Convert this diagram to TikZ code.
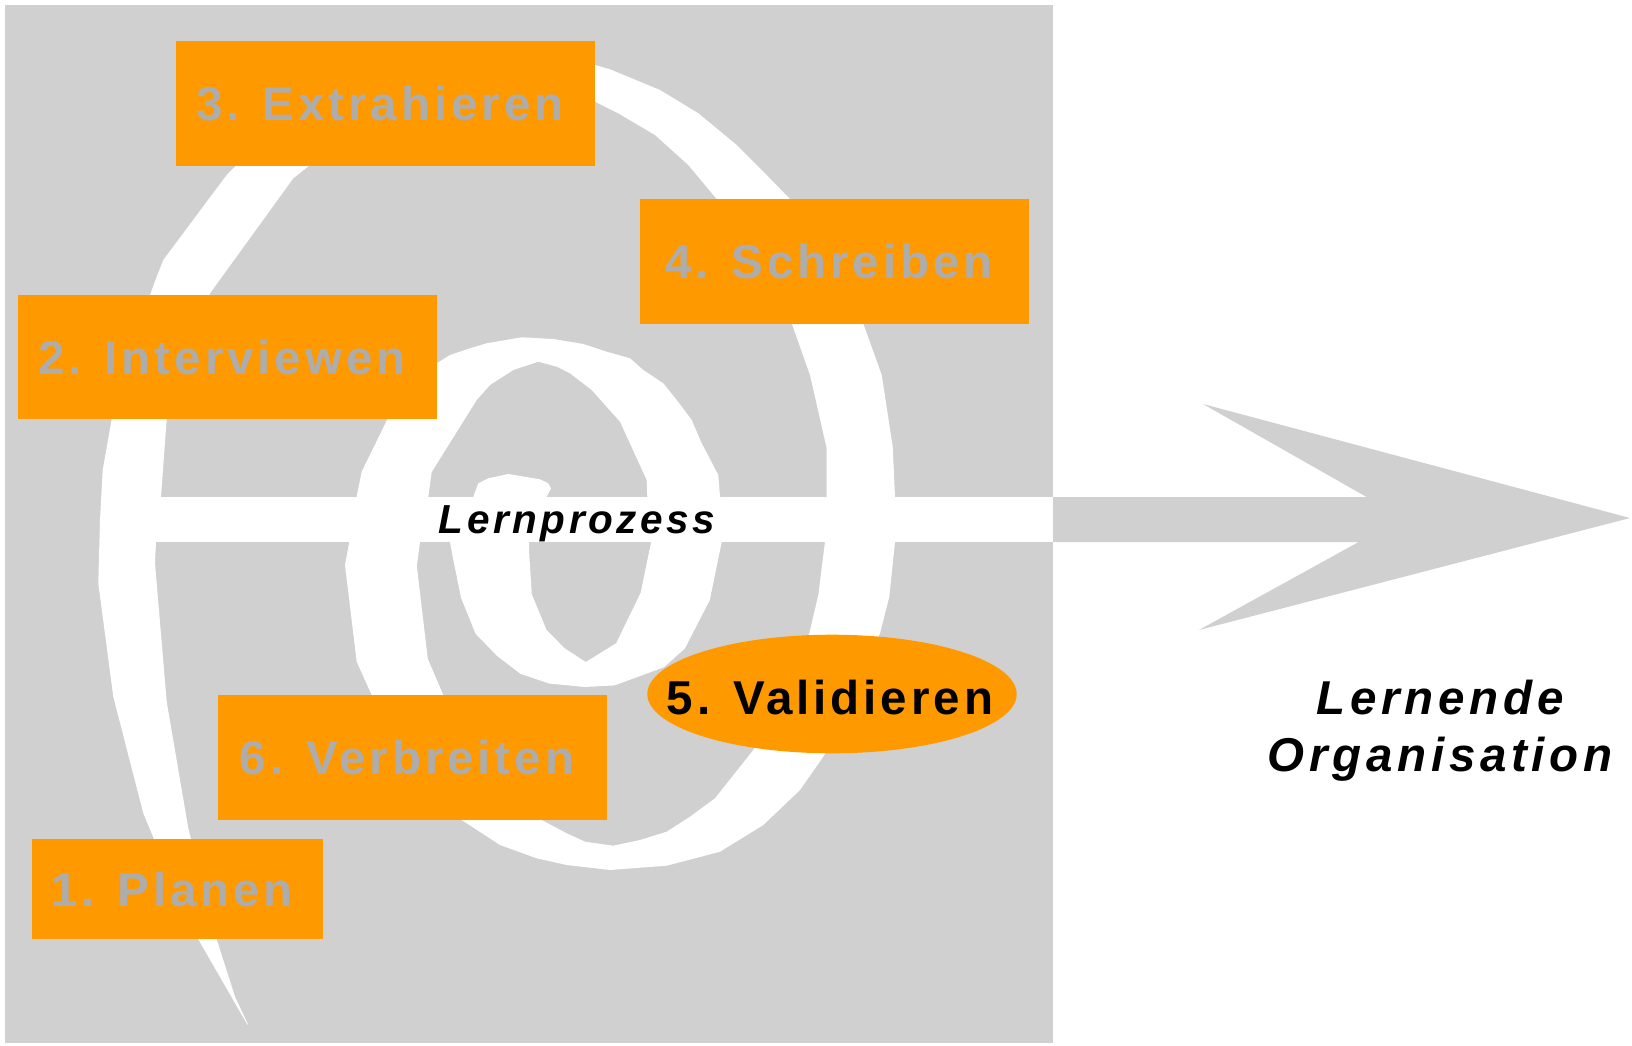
\documentclass[tikz,border=0pt]{standalone}
\usepackage{fontspec}
\usetikzlibrary{shapes.geometric}
\setmainfont{Liberation Sans}
\newfontfamily\lblfont[LetterSpace=8.3]{Liberation Sans}
\newfontfamily\orgfont[LetterSpace=10]{Liberation Sans}
\newfontfamily\procfont[LetterSpace=8.8]{Liberation Sans}
\definecolor{bggray}{RGB}{208,208,208}
\definecolor{orng}{RGB}{255,153,0}
\definecolor{txtgray}{RGB}{173,173,173}
\begin{document}
\begin{tikzpicture}[x=1pt,y=-1pt,
  stepbox/.style={fill=orng,draw=none,inner sep=0pt,text height=34pt,text depth=0pt,
    execute at end node={\hspace*{11pt}},
    font=\lblfont\bfseries\fontsize{47.5}{57}\selectfont,text=txtgray},
  steptext/.style={inner sep=0pt,anchor=base,
    font=\lblfont\bfseries\fontsize{47.5}{57}\selectfont,text=black},
  biglbl/.style={inner sep=0pt,anchor=base,font=\orgfont\bfseries\itshape\fontsize{47.5}{57}\selectfont},
  proclbl/.style={inner sep=0pt,anchor=base,font=\procfont\bfseries\itshape\fontsize{40.5}{48}\selectfont}]
\useasboundingbox (0,0) rectangle (1632,1046);
\fill[white] (0,0) rectangle (1632,1046);
% grey field
\fill[bggray] (5,5) rectangle (1053,1043);
% spiral
\fill[white] (247,1024) -- (198.3,939.3) -- (154,839) -- (143.3,813.3) -- (113.3,696.7) -- (98.3,583.3) -- (100,520) -- (102.7,470) -- (111.7,419.3) -- (150,295) -- (156.7,276.7) -- (163.3,260) -- (226.7,175) -- (236.7,165) -- (595,65) -- (610,69.3) -- (660,90) -- (698.3,113.3) -- (736.7,145) -- (760,168.3) -- (790,199) -- (863.3,323.7) -- (881.7,375) -- (892.7,446.7) -- (895,496.7) -- (895,541.7) -- (889.3,596.7) -- (880,633.3) -- (826.7,751.7) -- (800,790) -- (763.3,825) -- (720,851.7) -- (666.7,865.7) -- (610,870) -- (566.7,865) -- (536.7,858.3) -- (500,845) -- (461.7,820) -- (371.7,695) -- (356.7,661.7) -- (345,565) -- (349.3,541.7) -- (356.7,496.7) -- (361.7,471.7) -- (387,420) -- (436.7,363.3) -- (450,355) -- (470,348.3) -- (486.7,343.3) -- (521.7,337.3) -- (553.3,339) -- (583.3,344) -- (606.7,351.7) -- (630,358.3) -- (643.3,370) -- (663.3,383.3) -- (676.7,400) -- (691.7,420) -- (701.7,443.3) -- (718.3,475) -- (720,496.7) -- (721.7,542) -- (709.8,600) -- (684.9,648.4) -- (664,667.2) -- (614.5,685.4) -- (584.7,687) -- (549,683.5) -- (520.4,673.8) -- (496.9,655.7) -- (475.6,633.8) -- (461.1,598) -- (452.4,555.3) -- (450,542) -- (473.3,496.7) -- (478.3,483.3) -- (488.3,478.3) -- (508.3,474) -- (540,479.3) -- (548.3,483.3) -- (551,488.3) -- (546.7,496.7) -- (529,542) -- (529.2,553.4) -- (531.8,594.3) -- (546.4,629.7) -- (564.8,648.4) -- (585.8,662) -- (596,655.7) -- (616.2,643.2) -- (640.7,592.7) -- (651.1,542.2) -- (647.3,496.7) -- (646.7,480) -- (620,421.7) -- (591.7,390) -- (570,373.3) -- (556.7,366.7) -- (538.3,361.7) -- (513.3,370) -- (490,385) -- (476.7,400) -- (431.7,472) -- (428.3,496.7) -- (420,542) -- (416.8,566.2) -- (427.8,658.8) -- (443.4,695.3) -- (541.7,820) -- (566.7,833.3) -- (585,841.7) -- (613.3,845.7) -- (640,840) -- (666.7,831.7) -- (690,816.7) -- (715,798.3) -- (753.3,750) -- (809.3,633.3) -- (818.3,595) -- (825,541.7) -- (826.7,496.7) -- (826.7,448.3) -- (810,375) -- (791.7,323.3) -- (716.7,199) -- (688.3,165) -- (655,135) -- (618.3,113.3) -- (595,101.7) -- (310,165) -- (293.3,178.3) -- (210,293.3) -- (166.7,419.3) -- (161,496.7) -- (156,541.7) -- (155,563.3) -- (166.7,701.7) -- (188.3,828.3) -- (191,839) -- (216.7,939.3) -- (235,996.7) -- (248.3,1025) -- cycle;
% white shaft inside the field
\fill[white] (155,497) rectangle (1053,542);
% grey arrow outside the field
\fill[bggray] (1053,497) -- (1366.6,497) -- (1203,404) -- (1630,518) -- (1199,630) -- (1358.6,542) -- (1053,542) -- cycle;
% steps
\node[stepbox,minimum width=291pt,minimum height=100pt] (s1) at (177.5,889) {1. Planen};
\node[stepbox,minimum width=419pt,minimum height=124.5pt] (s2) at (227.5,357.2) {2. Interviewen};
\node[stepbox,minimum width=419pt,minimum height=124.7pt] (s3) at (385.5,103.4) {3. Extrahieren};
\node[stepbox,minimum width=389pt,minimum height=124.7pt] (s4) at (834.5,261.4) {4. Schreiben};
\fill[orng] (832,694) ellipse [x radius=184.7pt, y radius=59.3pt];
\node[steptext] (s5) at (830,714.3) {5. Validieren};
\node[stepbox,minimum width=389pt,minimum height=124.7pt] (s6) at (412.5,757.4) {6. Verbreiten};
% labels
\node[proclbl] (lp) at (577,533.6) {Lernprozess};
\node[biglbl] (lo1) at (1440,714.3) {Lernende};
\node[biglbl] (lo2) at (1440,771.6) {Organisation};
\end{tikzpicture}
\end{document}
